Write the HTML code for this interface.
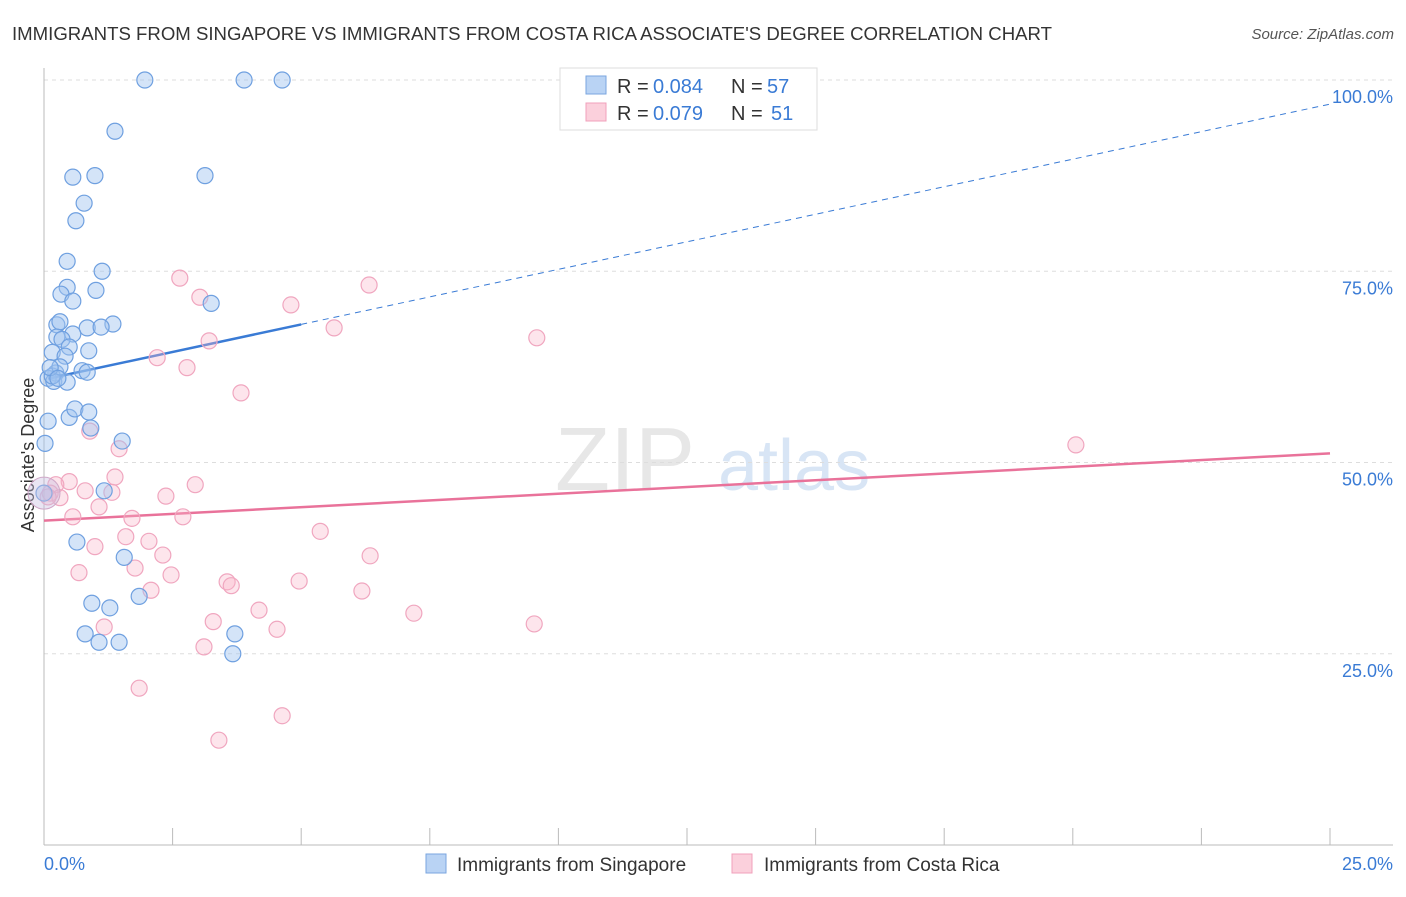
<!DOCTYPE html>
<html><head><meta charset="utf-8"><style>
body{margin:0;background:#fff;font-family:"Liberation Sans",sans-serif;}
svg text{font-family:"Liberation Sans",sans-serif;}
</style></head><body>
<svg id="chart" width="1406" height="892" viewBox="0 0 1406 892" xmlns="http://www.w3.org/2000/svg">
<text x="12" y="40" font-size="18" fill="#333" textLength="1040" lengthAdjust="spacingAndGlyphs">IMMIGRANTS FROM SINGAPORE VS IMMIGRANTS FROM COSTA RICA ASSOCIATE'S DEGREE CORRELATION CHART</text>
<text x="1394" y="39" font-size="15" fill="#555" font-style="italic" text-anchor="end">Source: ZipAtlas.com</text>
<text transform="translate(34,455) rotate(-90)" font-size="18" fill="#333" text-anchor="middle">Associate's Degree</text>
<g><text x="555" y="490" font-size="90" fill="#ddd" font-family="Liberation Serif" opacity="0.7">ZIP</text><text x="718" y="490" font-size="72" fill="#c8dbf2" opacity="0.7">atlas</text></g>
<g id="grid"></g><g id="axes"></g><g id="lines"></g><g id="points"></g>
<g>
<rect x="560" y="68" width="257" height="62" fill="#fff" stroke="#ddd"/>
<rect x="586" y="76" width="20" height="18" fill="#b9d3f4" stroke="#7aa6df"/>
<rect x="586" y="103" width="20" height="18" fill="#fbd0dc" stroke="#f0a0bb"/>
<text x="617" y="93" font-size="20" fill="#333">R = </text><text x="653" y="93" font-size="20" fill="#3a7bd5">0.084</text>
<text x="731" y="93" font-size="20" fill="#333">N = </text><text x="767" y="93" font-size="20" fill="#3a7bd5">57</text>
<text x="617" y="120" font-size="20" fill="#333">R = </text><text x="653" y="120" font-size="20" fill="#3a7bd5">0.079</text>
<text x="731" y="120" font-size="20" fill="#333">N = </text><text x="771" y="120" font-size="20" fill="#3a7bd5">51</text>
</g>
<g>
<rect x="426" y="854" width="20" height="19" fill="#b9d3f4" stroke="#7aa6df"/>
<text x="457" y="871" font-size="19" fill="#333">Immigrants from Singapore</text>
<rect x="732" y="854" width="20" height="19" fill="#fbd0dc" stroke="#f0a0bb"/>
<text x="764" y="871" font-size="19" fill="#333">Immigrants from Costa Rica</text>
</g>
</svg>
<script>
const blueX=[1.96,3.89,4.63,1.38,0.56,0.99,3.13,0.78,0.62,0.45,1.13,0.45,1.01,0.33,0.56,3.25,0.25,1.34,0.31,0.84,1.11,0.56,0.25,0.35,0.49,0.16,0.87,0.41,0.74,0.23,0.84,0.08,0.19,0.45,0.16,0.49,0.60,0.87,0.08,0.91,1.52,0.02,1.17,0,0.64,1.56,0.93,1.28,1.85,0.80,1.07,1.46,3.71,3.67,0.31,0.12,0.27];
const blueY=[100,100,100,93.3,87.3,87.5,87.5,83.9,81.6,76.3,75.0,72.9,72.5,72.0,71.1,70.8,68.0,68.1,68.4,67.6,67.7,66.8,66.4,66.1,65.1,64.4,64.6,63.9,62.0,61.7,61.8,61.0,60.6,60.5,61.3,55.9,57.0,56.6,55.4,54.5,52.8,52.5,46.3,46.0,39.6,37.6,31.6,31.0,32.5,27.6,26.5,26.5,27.6,25.0,62.5,62.4,61.0];
const pinkX=[2.64,3.03,4.80,6.32,5.64,9.58,3.21,2.20,2.78,3.83,20.06,0.89,1.46,1.38,0.49,0.23,0.12,0.31,0.08,2.94,1.32,0.80,2.37,1.07,0.56,1.71,2.70,5.37,1.59,0.99,2.04,2.31,6.34,0.68,1.77,2.47,3.56,3.64,4.96,2.08,6.18,4.18,7.19,3.29,1.17,4.53,9.53,3.11,1.85,4.63,3.40];
const pinkY=[74.1,71.6,70.6,73.2,67.6,66.3,65.9,63.7,62.4,59.1,52.3,54.1,51.8,48.1,47.5,47.1,46.0,45.4,45.5,47.1,46.1,46.3,45.6,44.2,42.9,42.7,42.9,41.0,40.3,39.0,39.7,37.9,37.8,35.6,36.2,35.3,34.4,33.9,34.5,33.3,33.2,30.7,30.3,29.2,28.5,28.2,28.9,25.9,20.5,16.9,13.7];
const blueTrend=[60.85,1.44];
const pinkTrend=[42.4,0.352];
const yTicks=[25,50,75,100];
const yTickLabels=["25.0%","50.0%","75.0%","100.0%"];
const xTicks=[0,2.5,5,7.5,10,12.5,15,17.5,20,22.5,25];

const NS="http://www.w3.org/2000/svg";
const sx=v=>44+v*51.44, sy=v=>845-v*7.65;
function mk(tag,attrs,parent){const e=document.createElementNS(NS,tag);for(const k in attrs)e.setAttribute(k,attrs[k]);parent.appendChild(e);return e;}
const grid=document.getElementById('grid'),axes=document.getElementById('axes'),lines=document.getElementById('lines'),pts=document.getElementById('points');
yTicks.forEach((t,i)=>{
 const l=mk('line',{x1:44,x2:1393,y1:sy(t),y2:sy(t),stroke:'#ddd','stroke-dasharray':'4,4'},grid);
 
 
 const tx=mk('text',{x:1393,y:sy(t)+23,'font-size':18,fill:'#3a7bd5','text-anchor':'end'},axes);
 tx.textContent=yTickLabels[i];
 
 
});
const ax=mk('line',{x1:44,x2:1393,y1:845,y2:845,stroke:'#bbb'},axes);


const ay=mk('line',{x1:44,x2:44,y1:68,y2:845,stroke:'#bbb'},axes);


xTicks.forEach(t=>{const l=mk('line',{x1:sx(t),x2:sx(t),y1:828,y2:845,stroke:'#bbb'},axes);
 
 });
const x0=mk('text',{x:44,y:870,'font-size':18,fill:'#3a7bd5'},axes);x0.textContent='0.0%';


const x1=mk('text',{x:1393,y:870,'font-size':18,fill:'#3a7bd5','text-anchor':'end'},axes);x1.textContent='25.0%';



const bf=x=>blueTrend[0]+blueTrend[1]*x, pf=x=>pinkTrend[0]+pinkTrend[1]*x;
const bs=mk('line',{x1:sx(0.08),y1:sy(bf(0.08)),x2:sx(5),y2:sy(bf(5)),stroke:'#3a7bd5','stroke-width':2.5},lines);


const bd=mk('line',{x1:sx(5),y1:sy(bf(5)),x2:sx(25),y2:sy(bf(25)),stroke:'#3a7bd5','stroke-width':1,'stroke-dasharray':'6,5'},lines);


const pl=mk('line',{x1:sx(0),y1:sy(pf(0)),x2:sx(25),y2:sy(pf(25)),stroke:'#e9729a','stroke-width':2.5},lines);



pinkX.forEach((x,i)=>{const c=mk('circle',{cx:sx(x),cy:sy(pinkY[i]),r:8,fill:'rgba(248,180,200,0.35)',stroke:'#f0a6bf','stroke-width':1.2},pts);
 
 });
blueX.forEach((x,i)=>{const c=mk('circle',{cx:sx(x),cy:sy(blueY[i]),r:8,fill:'rgba(160,196,240,0.45)',stroke:'#6fa0e0','stroke-width':1.2},pts);
 
 });
const big=mk('circle',{cx:sx(0),cy:sy(46),r:16,fill:'rgba(200,190,225,0.4)',stroke:'#d0a8c8','stroke-width':1},pts);


</script>
</body></html>
